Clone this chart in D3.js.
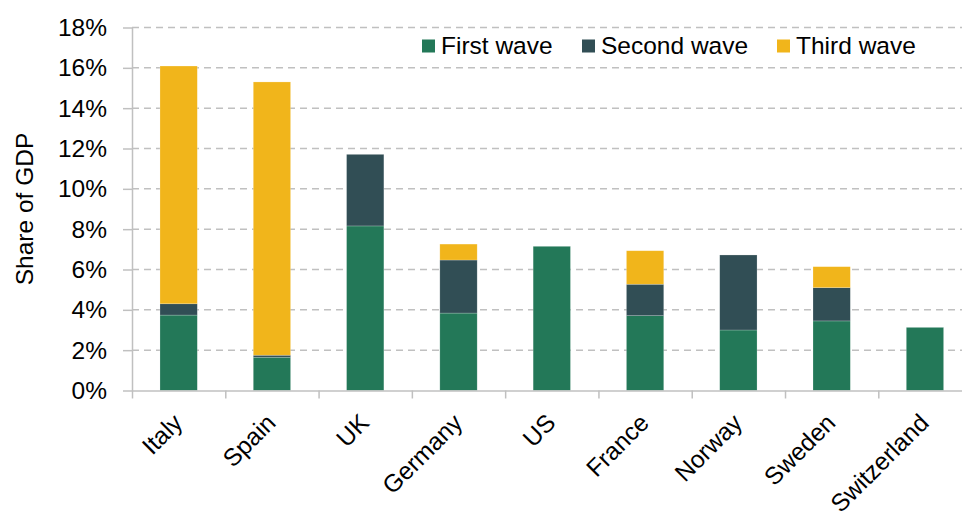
<!DOCTYPE html>
<html>
<head>
<meta charset="utf-8">
<script src="https://cdn.jsdelivr.net/npm/d3@7"></script>
<style>
    body { margin: 0; background: #fff; }
    svg { display: block; font-family: "Liberation Sans", Arial, sans-serif; }
    .grid line { stroke: #c0c0c0; stroke-width: 1.5; stroke-dasharray: 7,5; }
    .axis path, .axis line { stroke: #c0c0c0; stroke-width: 1.5; }
    .axis text { fill: #000; font-size: 24.5px; font-family: "Liberation Sans", Arial, sans-serif; }
</style>
</head>
<body>
<svg width="962" height="515"></svg>
<script>
const countries = ["Italy", "Spain", "UK", "Germany", "US", "France", "Norway", "Sweden", "Switzerland"];
const waves     = ["First wave", "Second wave", "Third wave"];
const firstWave  = [3.74, 1.65, 8.16, 3.84, 7.15, 3.71, 3.00, 3.45, 3.13];
const secondWave = [0.56, 0.10, 3.55, 2.63, 0.00, 1.56, 3.72, 1.65, 0.00];
const thirdWave  = [11.79, 13.55, 0.00, 0.79, 0.00, 1.66, 0.00, 1.04, 0.00];
const yTicks     = [0, 2, 4, 6, 8, 10, 12, 14, 16, 18];
const colours    = ["#237858", "#314e55", "#f1b51b"];

const rows = countries.map((c, i) => ({
    country: c,
    "First wave":  firstWave[i] / 100,
    "Second wave": secondWave[i] / 100,
    "Third wave":  thirdWave[i] / 100,
}));

const svg = d3.select("svg");
const plotLeft = 132, plotRight = 971.6, plotTop = 27.5, plotBottom = 390.5;

const x = d3.scaleBand()
    .domain(countries)
    .range([plotLeft, plotRight])
    .paddingInner(0.6)
    .paddingOuter(0.3);

const y = d3.scaleLinear()
    .domain([0, 0.18])
    .range([plotBottom, plotTop]);

const colour = d3.scaleOrdinal().domain(waves).range(colours);

// gridlines
svg.append("g")
    .attr("class", "grid")
    .selectAll("line")
    .data(yTicks.filter(d => d > 0))
    .enter().append("line")
        .attr("x1", plotLeft)
        .attr("x2", 962)
        .attr("y1", d => y(d / 100))
        .attr("y2", d => y(d / 100));

// stacked bars
const stack = d3.stack().keys(waves)(rows);

svg.append("g")
    .selectAll("g")
    .data(stack)
    .enter().append("g")
        .attr("fill", d => colour(d.key))
    .selectAll("rect")
    .data(d => d.filter(s => s[1] - s[0] > 0))
    .enter().append("rect")
        .attr("x", d => x(d.data.country))
        .attr("y", d => y(d[1]))
        .attr("width", x.bandwidth())
        .attr("height", d => y(d[0]) - y(d[1]))
        .attr("stroke", "#ffffff")
        .attr("stroke-opacity", 0.35)
        .attr("stroke-width", 0.6);

// y axis
svg.append("g")
    .attr("class", "axis")
    .attr("transform", `translate(${plotLeft},0)`)
    .call(d3.axisLeft(y)
        .tickValues(yTicks.map(d => d / 100))
        .tickFormat(d3.format(".0%"))
        .tickSizeInner(9)
        .tickSizeOuter(0)
        .tickPadding(16));

// x axis: ticks at category boundaries
const xEdges = d3.scaleLinear().domain([0, countries.length]).range([plotLeft, plotRight]);
svg.append("g")
    .attr("class", "axis")
    .attr("transform", `translate(0,${plotBottom})`)
    .call(d3.axisBottom(xEdges)
        .tickValues(d3.range(countries.length + 1))
        .tickFormat("")
        .tickSizeInner(8)
        .tickSizeOuter(0));

// x labels
svg.append("g")
    .selectAll("text")
    .data(countries)
    .enter().append("text")
        .attr("transform", d => `translate(${x(d) + x.bandwidth() / 2 - 7},412) rotate(-45)`)
        .attr("text-anchor", "end")
        .attr("dy", "0.71em")
        .attr("font-size", "24.5px")
        .text(d => d);

// y title
svg.append("text")
    .attr("transform", `translate(32.5,${(plotTop + plotBottom) / 2}) rotate(-90)`)
    .attr("text-anchor", "middle")
    .attr("font-size", "24.5px")
    .text("Share of GDP");

// legend
const legendX = [422, 582, 777];
const legend = svg.append("g")
    .selectAll("g")
    .data(waves)
    .enter().append("g")
        .attr("transform", (d, i) => `translate(${legendX[i]},39.5)`);

legend.append("rect")
    .attr("width", 13)
    .attr("height", 13)
    .attr("fill", d => colour(d));

legend.append("text")
    .attr("x", 19)
    .attr("y", 14)
    .attr("font-size", "24.5px")
    .text(d => d);
</script>
</body>
</html>
